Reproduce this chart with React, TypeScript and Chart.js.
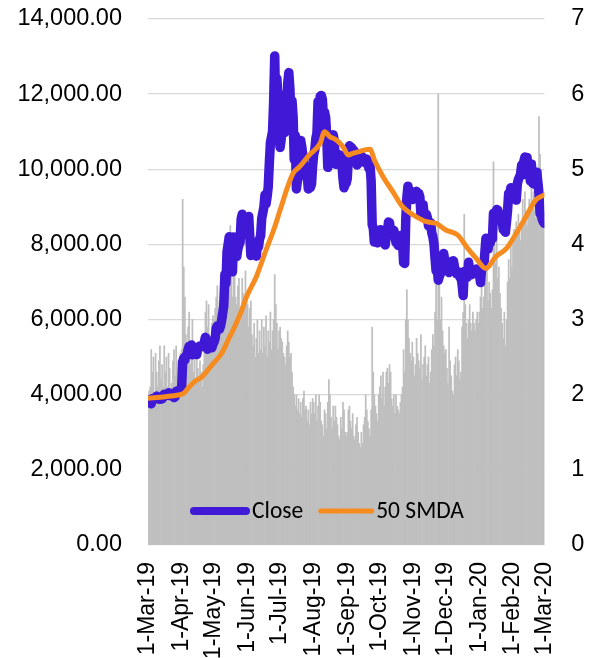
import React, { useEffect, useRef } from "react";
import { Chart, registerables } from "chart.js";

Chart.register(...registerables);

// ---- Close price by month ----
const closeMar19 = [3859, 3864, 3847, 3761, 3897, 3903, 3912, 3901, 3964, 3952, 3880, 3899, 3881, 3887, 3930, 4014, 3981, 3991, 4022, 4052, 3977, 3987, 3997, 3988, 3923, 3943, 4089, 4076, 4106, 4105, 4105];
const closeApr19 = [4158, 4880, 4974, 4922, 5036, 5059, 5199, 5289, 5205, 5325, 5064, 5089, 5097, 5167, 5068, 5236, 5273, 5298, 5286, 5310, 5280, 5400, 5529, 5465, 5210, 5280, 5268, 5285, 5248, 5350];
const closeMay19 = [5402, 5505, 5769, 5831, 5795, 5747, 5830, 5982, 6175, 6379, 7205, 6972, 7815, 7995, 8206, 7885, 7343, 7272, 8197, 7978, 7963, 7681, 7881, 7987, 8053, 8674, 8805, 8720, 8659, 8270, 8555];
const closeJun19 = [8564, 8742, 8208, 7707, 7824, 7822, 8043, 7954, 7688, 8000, 7927, 8145, 8230, 8693, 8838, 8994, 9320, 9082, 9273, 9527, 10144, 10701, 10855, 11011, 11790, 13016, 11400, 12407, 11959, 10817];
const closeJul19 = [10583, 10801, 11961, 11215, 10978, 11208, 11450, 12285, 12573, 12157, 11358, 11815, 11392, 10256, 10896, 9477, 9694, 10666, 10530, 10767, 10599, 10343, 9900, 9811, 9911, 9870, 9477, 9552, 9519, 9607, 10085];
const closeAug19 = [10400, 10519, 10821, 10970, 11805, 11478, 11941, 11966, 11862, 11354, 11523, 11382, 10895, 10051, 10311, 10374, 10231, 10345, 10916, 10763, 10138, 10131, 10407, 10159, 10138, 10370, 10185, 9755, 9510, 9598, 9630];
const closeSep19 = [9757, 10347, 10624, 10594, 10576, 10317, 10507, 10442, 10337, 10116, 10157, 10415, 10361, 10359, 10313, 10263, 10200, 10167, 10273, 10182, 10020, 10089, 9702, 8530, 8435, 8064, 8244, 8208, 8045, 8305];
const closeOct19 = [8343, 8393, 8260, 8205, 8152, 7988, 8245, 8228, 8595, 8586, 8321, 8336, 8321, 8375, 8205, 8047, 8103, 7973, 7988, 8222, 8243, 8078, 7514, 7493, 8661, 9244, 9551, 9256, 9428, 9205, 9199];
const closeNov19 = [9261, 9324, 9235, 9413, 9320, 9360, 9267, 8804, 8813, 9055, 8757, 8815, 8808, 8708, 8491, 8550, 8577, 8309, 8206, 8027, 7643, 7296, 7397, 7047, 7146, 7219, 7531, 7463, 7761, 7569];
const closeDec19 = [7424, 7321, 7320, 7252, 7448, 7547, 7556, 7564, 7400, 7278, 7217, 7243, 7269, 7124, 7152, 6932, 6640, 7277, 7150, 7187, 7133, 7523, 7324, 7241, 7202, 7219, 7243, 7269, 7345, 7254, 7194];
const closeJan20 = [7200, 6985, 7345, 7410, 7411, 7769, 8163, 8079, 7879, 8166, 8037, 8193, 8145, 8828, 8808, 8723, 8930, 8913, 8709, 8681, 8659, 8629, 8393, 8431, 8326, 8599, 8909, 9358, 9316, 9508, 9350];
const closeFeb20 = [9392, 9344, 9293, 9180, 9613, 9729, 9795, 9865, 10116, 9856, 10208, 10326, 10214, 10312, 9889, 9934, 9690, 10141, 9633, 9608, 9686, 9663, 9924, 9650, 9341, 8820, 8784, 8672, 8600];
const closeMar20 = [8562];

// ---- Volume (right axis units) by month ----
const volMar19 = [1.95, 2.05, 2.1, 2.6, 2.3, 2.5, 2.0, 2.55, 2.3, 2.1, 2.45, 2.65, 2.2, 2.4, 2.1, 2.65, 2.3, 2.5, 2.1, 2.55, 2.35, 2.0, 2.15, 2.45, 2.6, 2.25, 2.65, 2.1, 2.45, 2.15, 2.55];
const volApr19 = [2.6, 4.6, 3.7, 3.3, 2.8, 2.5, 2.9, 3.1, 2.4, 2.7, 3.0, 2.3, 2.5, 2.2, 2.5, 2.35, 2.2, 2.45, 2.3, 2.1, 2.4, 2.65, 3.1, 3.25, 2.9, 3.2, 2.75, 2.6, 2.95, 3.05];
const volMay19 = [3.0, 3.15, 3.3, 3.45, 2.95, 3.25, 3.35, 3.0, 3.35, 3.55, 3.85, 3.5, 3.95, 4.1, 3.8, 4.25, 3.95, 3.3, 3.65, 3.7, 3.3, 3.2, 3.45, 3.55, 3.0, 3.15, 3.55, 3.35, 3.2, 3.65, 3.25];
const volJun19 = [3.2, 2.9, 3.15, 3.25, 2.8, 2.65, 2.95, 2.5, 2.75, 3.0, 2.55, 2.85, 2.6, 3.0, 2.55, 2.9, 2.65, 3.05, 2.5, 2.85, 2.7, 3.1, 2.6, 2.85, 3.0, 3.6, 3.2, 2.95, 2.6, 2.85];
const volJul19 = [2.9, 2.75, 2.7, 2.55, 2.5, 2.4, 2.65, 2.85, 2.7, 2.5, 2.55, 2.3, 2.1, 2.0, 1.85, 2.0, 1.8, 1.95, 1.75, 1.9, 1.7, 1.95, 2.05, 1.8, 1.85, 1.65, 1.8, 1.6, 1.9, 1.75, 1.95];
const volAug19 = [1.9, 1.75, 2.0, 1.65, 1.85, 2.0, 1.9, 1.65, 1.6, 1.45, 1.8, 1.75, 1.55, 1.9, 2.2, 2.0, 1.7, 1.55, 1.85, 1.65, 1.85, 1.7, 1.6, 1.45, 1.4, 1.7, 1.55, 1.9, 1.8, 1.5, 1.45];
const volSep19 = [1.5, 1.8, 1.85, 1.65, 1.55, 1.75, 1.45, 1.4, 1.6, 1.7, 1.5, 1.35, 1.3, 1.5, 1.35, 1.6, 1.7, 2.0, 1.8, 1.65, 1.55, 1.45, 1.8, 2.9, 2.3, 2.0, 1.85, 1.75, 1.65, 2.0];
const volOct19 = [2.1, 2.25, 1.95, 2.3, 1.85, 2.1, 2.3, 2.35, 2.15, 2.4, 2.3, 1.95, 1.85, 2.0, 1.75, 2.0, 1.85, 1.8, 1.75, 1.9, 2.0, 2.1, 2.6, 2.3, 3.0, 3.4, 3.0, 2.75, 2.55, 2.45, 2.7];
const volNov19 = [2.5, 2.25, 2.4, 2.75, 2.55, 2.45, 2.35, 2.8, 2.2, 2.4, 2.5, 2.65, 2.25, 2.4, 2.5, 2.15, 2.3, 2.6, 2.8, 2.65, 3.1, 3.5, 3.0, 6.0, 3.5, 3.0, 3.3, 2.85, 2.65, 2.55];
const volDec19 = [2.6, 2.35, 2.15, 2.9, 2.45, 2.25, 2.05, 2.0, 2.4, 2.5, 2.25, 2.6, 2.45, 2.2, 2.3, 2.9, 3.1, 4.4, 3.2, 2.95, 2.75, 3.0, 3.2, 2.95, 2.85, 3.1, 2.95, 2.85, 3.0, 3.1, 2.95];
const volJan20 = [3.1, 3.3, 3.6, 3.15, 3.3, 3.7, 3.55, 3.75, 3.25, 3.5, 3.35, 3.15, 3.4, 5.1, 4.0, 3.75, 4.1, 3.55, 3.7, 3.35, 3.15, 2.95, 2.75, 3.1, 2.65, 3.0, 3.5, 3.8, 3.55, 4.0, 3.7];
const volFeb20 = [4.0, 4.2, 4.05, 4.3, 4.15, 4.4, 4.25, 4.05, 4.3, 4.6, 4.35, 4.7, 4.45, 4.25, 4.4, 4.6, 4.45, 4.8, 4.55, 4.7, 4.45, 4.35, 4.6, 4.9, 5.7, 5.2, 5.0, 4.8, 4.55];
const volMar20 = [4.3];

// ---- 50-day moving average, read at day offsets from 1-Mar-19 ----
const smaDays = [0, 16, 28, 33, 37, 43, 50, 59, 68, 74, 80, 86, 91, 100, 109, 116, 122, 129, 134, 140, 149, 159, 163, 168, 174, 180, 185, 189, 195, 200, 205, 209, 217, 226, 235, 245, 257, 266, 275, 286, 294, 303, 312, 321, 331, 340, 349, 358, 366];
const smaValues = [3905, 3948, 3993, 4038, 4171, 4347, 4480, 4791, 5102, 5456, 5811, 6210, 6609, 7141, 7852, 8384, 8917, 9537, 9893, 10070, 10381, 10692, 11000, 10868, 10780, 10602, 10381, 10425, 10470, 10514, 10532, 10247, 9803, 9404, 9004, 8783, 8605, 8561, 8384, 8251, 7940, 7629, 7363, 7674, 7896, 8296, 8740, 9183, 9316];

// ---- X tick labels (first of each month) ----
const tickLabels = ["1-Mar-19", "1-Apr-19", "1-May-19", "1-Jun-19", "1-Jul-19", "1-Aug-19", "1-Sep-19", "1-Oct-19", "1-Nov-19", "1-Dec-19", "1-Jan-20", "1-Feb-20", "1-Mar-20"];
const yLeftTicks = [0, 2000, 4000, 6000, 8000, 10000, 12000, 14000];
const yRightTicks = [0, 1, 2, 3, 4, 5, 6, 7];

const seriesNames = { close: "Close", sma: "50 SMDA" };

const closeAll = [
  ...closeMar19, ...closeApr19, ...closeMay19, ...closeJun19, ...closeJul19, ...closeAug19,
  ...closeSep19, ...closeOct19, ...closeNov19, ...closeDec19, ...closeJan20, ...closeFeb20, ...closeMar20,
];
const volAll = [
  ...volMar19, ...volApr19, ...volMay19, ...volJun19, ...volJul19, ...volAug19,
  ...volSep19, ...volOct19, ...volNov19, ...volDec19, ...volJan20, ...volFeb20, ...volMar20,
];

const DAY = 86400000;
const start = Date.UTC(2019, 2, 1);
const tickDays = tickLabels.map((_, i) => Math.round((Date.UTC(2019, 2 + i, 1) - start) / DAY));
const lastDay = tickDays[tickDays.length - 1];

const AXIS_FONT = "'Liberation Sans', Arial, sans-serif";
const LEGEND_FONT = "Carlito, Calibri, sans-serif";

const insideLegend = {
  id: "insideLegend",
  afterDraw(chart: any) {
    const { ctx, chartArea } = chart;
    const items = [
      { ds: chart.data.datasets[1], len: 60, w: 8 },
      { ds: chart.data.datasets[2], len: 56, w: 5 },
    ];
    let x = chartArea.left + 42;
    const y = chartArea.bottom - 34;
    ctx.save();
    ctx.font = `23.5px ${LEGEND_FONT}`;
    ctx.textBaseline = "middle";
    ctx.textAlign = "left";
    ctx.lineCap = "round";
    items.forEach((it) => {
      ctx.strokeStyle = it.ds.borderColor;
      ctx.lineWidth = it.w;
      ctx.beginPath();
      ctx.moveTo(x + it.w / 2, y);
      ctx.lineTo(x + it.len - it.w / 2, y);
      ctx.stroke();
      x += it.len + 2;
      ctx.fillStyle = "#000";
      ctx.fillText(it.ds.label, x, y + 1);
      x += ctx.measureText(it.ds.label).width + 15;
    });
    ctx.restore();
  },
};

export default function App() {
  const ref = useRef<HTMLCanvasElement | null>(null);

  useEffect(() => {
    if (!ref.current) return;
    const chart = new Chart(ref.current, {
      type: "bar",
      data: {
        datasets: [
          {
            type: "bar",
            label: "Volume",
            data: volAll.map((v, i) => ({ x: i, y: v })),
            yAxisID: "y1",
            backgroundColor: "#BFBFBF",
            borderWidth: 0,
            barPercentage: 1,
            categoryPercentage: 1,
            grouped: false,
            order: 3,
          } as any,
          {
            type: "line",
            label: seriesNames.close,
            data: closeAll.map((v, i) => ({ x: i, y: v })),
            yAxisID: "y",
            borderColor: "#4019D6",
            borderWidth: 9.5,
            pointRadius: 0,
            borderJoinStyle: "round",
            borderCapStyle: "round",
            tension: 0,
            order: 2,
          },
          {
            type: "line",
            label: seriesNames.sma,
            data: smaDays.map((d, i) => ({ x: d, y: smaValues[i] })),
            yAxisID: "y",
            borderColor: "#F68B1F",
            borderWidth: 5,
            pointRadius: 0,
            borderJoinStyle: "round",
            borderCapStyle: "round",
            cubicInterpolationMode: "monotone",
            order: 1,
          },
        ],
      },
      options: {
        animation: false,
        responsive: false,
        devicePixelRatio: 1,
        layout: { padding: { top: 19, left: 0, right: 4, bottom: 0 } },
        plugins: { legend: { display: false }, tooltip: { enabled: false } },
        scales: {
          x: {
            type: "linear",
            min: 0,
            max: lastDay,
            offset: false,
            grid: { display: false, drawTicks: false },
            border: { display: false },
            afterBuildTicks: (s: any) => {
              s.ticks = tickDays.map((v) => ({ value: v }));
            },
            afterFit: (s: any) => {
              s.height = 113;
            },
            ticks: {
              autoSkip: false,
              minRotation: 90,
              maxRotation: 90,
              padding: 17,
              color: "#000",
              font: { family: AXIS_FONT, size: 23 },
              callback: (v: any) => tickLabels[tickDays.indexOf(v)] ?? "",
            },
          },
          y: {
            position: "left",
            min: 0,
            max: 14000,
            afterBuildTicks: (s: any) => {
              s.ticks = yLeftTicks.map((v) => ({ value: v }));
            },
            afterFit: (s: any) => {
              s.width = 148;
            },
            grid: {
              color: "#D9D9D9",
              lineWidth: 1.3,
              drawTicks: true,
              tickLength: 26,
              tickColor: "rgba(0,0,0,0)",
            },
            border: { display: false },
            ticks: {
              padding: 0,
              crossAlign: "near",
              color: "#000",
              font: { family: AXIS_FONT, size: 23.5 },
              callback: (v: any) =>
                Number(v).toLocaleString("en-US", { minimumFractionDigits: 2, maximumFractionDigits: 2 }),
            },
          },
          y1: {
            position: "right",
            min: 0,
            max: 7,
            afterBuildTicks: (s: any) => {
              s.ticks = yRightTicks.map((v) => ({ value: v }));
            },
            afterFit: (s: any) => {
              s.width = 40;
            },
            grid: { display: false, drawTicks: false },
            border: { display: false },
            ticks: {
              padding: 0,
              crossAlign: "far",
              color: "#000",
              font: { family: AXIS_FONT, size: 23.5 },
              callback: (v: any) => String(v),
            },
          },
        },
      },
      plugins: [insideLegend],
    });
    return () => chart.destroy();
  }, []);

  return (
    <div style={{ position: "fixed", left: 0, top: 0, width: 589, height: 658, background: "#fff" }}>
      <canvas ref={ref} width={589} height={658} style={{ display: "block" }} />
    </div>
  );
}
